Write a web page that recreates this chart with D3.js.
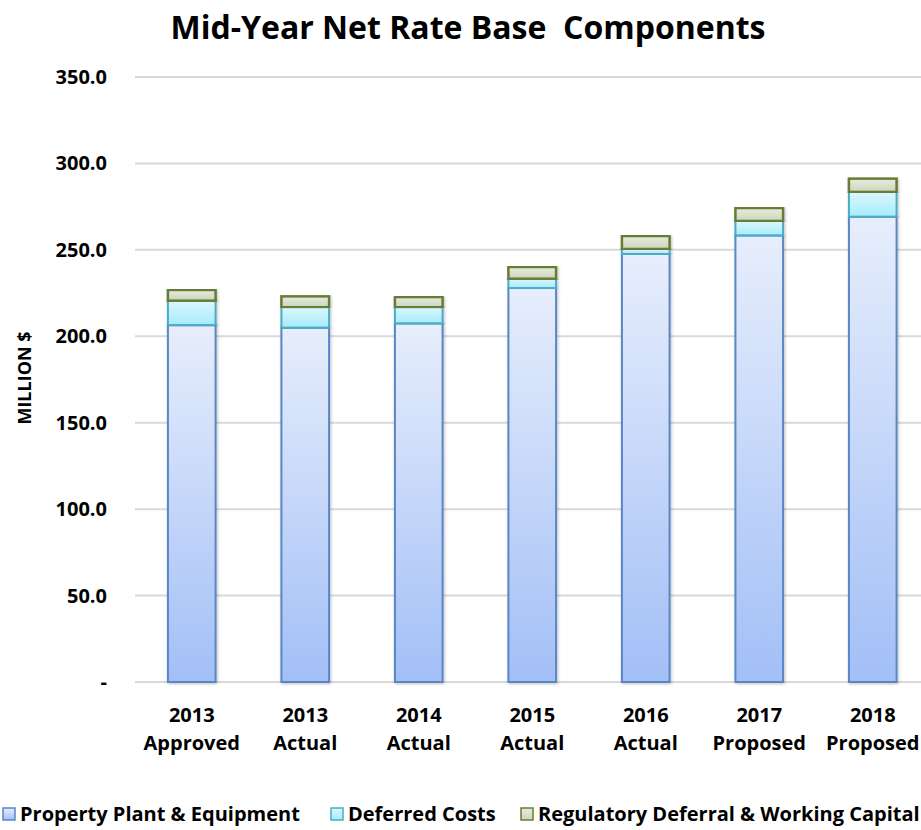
<!DOCTYPE html>
<html>
<head>
<meta charset="utf-8">
<script src="https://cdn.jsdelivr.net/npm/d3@7"></script>
<style>
  body { margin: 0; background: #fff; }
  svg { font-family: "Open Sans", Lato, sans-serif; font-weight: bold; }
</style>
</head>
<body>
<script>
const categories = [["2013", "Approved"], ["2013", "Actual"], ["2014", "Actual"], ["2015", "Actual"], ["2016", "Actual"], ["2017", "Proposed"], ["2018", "Proposed"]];
const plant = [206.5, 205.0, 207.5, 227.9, 247.6, 258.4, 269.2];
const deferred = [14.1, 11.8, 9.3, 5.4, 2.9, 8.3, 14.3];
const regulatory = [6.2, 6.3, 5.9, 6.8, 7.5, 7.5, 7.7];
const seriesNames = ["Property Plant & Equipment", "Deferred Costs", "Regulatory Deferral & Working Capital"];
const yTicks = [0, 50, 100, 150, 200, 250, 300, 350];

const w = 921, h = 830;
const plotLeft = 135, plotRight = 929.5, plotTop = 77, plotBottom = 682;

const svg = d3.select("body").append("svg").attr("width", w).attr("height", h);

const styles = [
  {top: "#e7eefc", bottom: "#a2bff6", stroke: "#5a86c6"},
  {top: "#dcf7fe", bottom: "#a6ebfb", stroke: "#4bacc6"},
  {top: "#e7ecdf", bottom: "#cbd5ba", stroke: "#687c35"}
];

const defs = svg.append("defs");
styles.forEach((s, i) => {
  const g = defs.append("linearGradient").attr("id", "grad" + i)
    .attr("x1", 0).attr("y1", 0).attr("x2", 0).attr("y2", 1);
  g.append("stop").attr("offset", "0%").attr("stop-color", s.top);
  g.append("stop").attr("offset", "100%").attr("stop-color", s.bottom);
});
const f = defs.append("filter").attr("id", "shadow").attr("x", "-20%").attr("y", "-5%").attr("width", "140%").attr("height", "110%");
f.append("feDropShadow").attr("dx", 1).attr("dy", 1).attr("stdDeviation", 1.5).attr("flood-color", "#000").attr("flood-opacity", 0.25);

const x = d3.scaleBand().domain(d3.range(categories.length)).range([plotLeft, plotRight]).paddingInner(0.58).paddingOuter(0.29);
const y = d3.scaleLinear().domain([0, 350]).range([plotBottom, plotTop]);

// gridlines
svg.append("g").selectAll("line").data(yTicks).enter().append("line")
  .attr("x1", plotLeft).attr("x2", w)
  .attr("y1", d => y(d)).attr("y2", d => y(d))
  .attr("stroke", "#d9d9d9").attr("stroke-width", 2);

// y labels
svg.append("g").selectAll("text").data(yTicks).enter().append("text")
  .attr("x", 107).attr("y", d => y(d) + 7)
  .attr("text-anchor", "end").attr("font-size", 20).attr("fill", "#000")
  .text(d => d === 0 ? "-" : d3.format(".1f")(d));

svg.append("text").attr("transform", "translate(31,378) rotate(-90)")
  .attr("text-anchor", "middle").attr("font-size", 18).text("MILLION $");

// stacked bars
const rows = categories.map((c, i) => ({i, a: plant[i], b: deferred[i], c: regulatory[i]}));
const stack = d3.stack().keys(["a", "b", "c"])(rows);

stack.forEach((layer, k) => {
  svg.append("g").selectAll("rect").data(layer).enter().append("rect")
    .attr("x", d => x(d.data.i))
    .attr("y", d => y(d[1]))
    .attr("width", x.bandwidth())
    .attr("height", d => y(d[0]) - y(d[1]))
    .attr("fill", "url(#grad" + k + ")")
    .attr("stroke", styles[k].stroke)
    .attr("stroke-width", k === 2 ? 2.5 : 2)
    .attr("filter", "url(#shadow)");
});

// x labels
const xl = svg.append("g").selectAll("text").data(categories).enter().append("text")
  .attr("text-anchor", "middle").attr("font-size", 20);
xl.append("tspan").attr("x", (d, i) => x(i) + x.bandwidth() / 2).attr("y", 722).text(d => d[0]);
xl.append("tspan").attr("x", (d, i) => x(i) + x.bandwidth() / 2).attr("y", 750).text(d => d[1]);

// title
svg.append("text").attr("x", 468).attr("y", 39).attr("text-anchor", "middle")
  .attr("font-size", 32).attr("xml:space", "preserve").text("Mid-Year Net Rate Base  Components");

// legend
const legendX = [3, 331, 521];
const lg = svg.append("g").selectAll("g").data(seriesNames).enter().append("g")
  .attr("transform", (d, i) => "translate(" + legendX[i] + ",808)");
lg.append("rect").attr("width", 12).attr("height", 12)
  .attr("fill", (d, i) => "url(#grad" + i + ")")
  .attr("stroke", (d, i) => styles[i].stroke).attr("stroke-width", 1.5);
lg.append("text").attr("x", 17).attr("y", 13).attr("font-size", 20).text(d => d);
</script>
</body>
</html>
